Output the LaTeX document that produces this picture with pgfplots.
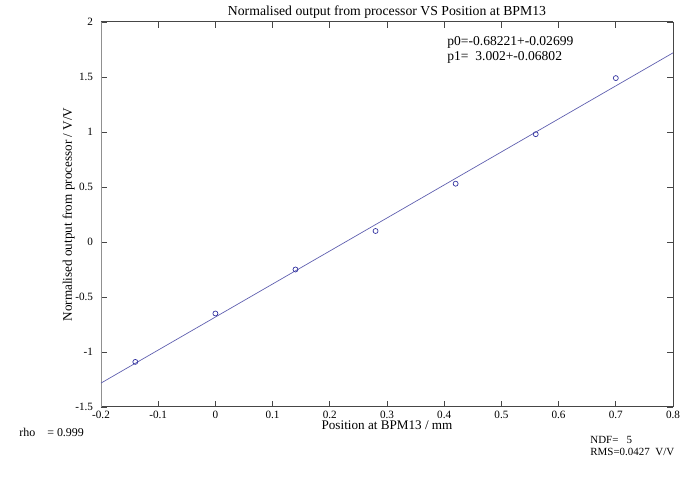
\documentclass[border=0pt]{standalone}
\usepackage{pgfplots}
\pgfplotsset{compat=1.18}
\usepackage{fontspec}
\setmainfont{Liberation Serif}
\usetikzlibrary{calc}
\definecolor{fitline}{RGB}{95,95,175}
\definecolor{pts}{RGB}{50,50,160}
\definecolor{frame}{RGB}{70,70,70}
\begin{document}
\begin{tikzpicture}[x=0.5bp,y=0.5bp]
\begin{axis}[name=ax,at={(0,0)},anchor=south west,scale only axis,
  width=286bp,height=192.5bp,
  xmin=-0.2,xmax=0.8,ymin=-1.5,ymax=2,
  xtick={-0.2,-0.1,0,0.1,0.2,0.3,0.4,0.5,0.6,0.7,0.8},
  ytick={-1.5,-1,-0.5,0,0.5,1,1.5,2},
  tick align=inside,major tick length=3bp,
  tick style={frame,line width=0.4pt},
  axis line style={frame,line width=0.5pt},
  separate axis lines,
  y axis line style={draw=none},
  every tick label/.append style={font=\fontsize{5.6}{6.5}\selectfont,text=black},
  /pgf/number format/assume math mode=true,
  xticklabel style={yshift=1.5bp},
  yticklabel style={xshift=-0.5bp},
  title={Normalised output from processor VS Position at BPM13},
  title style={font=\fontsize{6.9}{7.5}\selectfont,yshift=-7.5bp},
  xlabel={Position at BPM13 / mm},
  ylabel={Normalised output from processor / V/V},
  label style={font=\fontsize{6.6}{7}\selectfont},
  xlabel style={yshift=6bp},
  ylabel style={yshift=-6.5bp},
  clip=false]
\draw[frame!60,line width=0.3pt] (axis cs:-0.2,-1.5) -- (axis cs:-0.2,2);
\draw[frame,line width=0.5pt] (axis cs:0.8,-1.5) -- (axis cs:0.8,2);
\addplot[fitline,line width=0.35pt] coordinates {(-0.2,-1.28262)(0.8,1.71939)};
\addplot[only marks,mark=o,mark size=1.25bp,pts,mark options={line width=0.35pt}] coordinates {
(-0.14,-1.09)(0,-0.65)(0.14,-0.25)(0.28,0.10)(0.42,0.53)(0.56,0.98)(0.70,1.49)};
\end{axis}
\coordinate (O) at ($(ax.south west)+(-101,-70)$);
\pgfresetboundingbox
\path[use as bounding box] (O) rectangle ++(688,477);
\begin{scope}[shift={(O)},every node/.style={font=\fontsize{6.8}{7}\selectfont,anchor=west,inner sep=0pt}]
\node at (447,435) {p0=-0.68221+-0.02699};
\node at (447,420) {p1=\ \ 3.002+-0.06802};
\node[font=\fontsize{6}{7}\selectfont] at (19,45) {rho\ \ \ \ = 0.999};
\node[font=\fontsize{5.5}{7}\selectfont] at (590,37) {NDF=\ \ \ 5};
\node[font=\fontsize{5.5}{7}\selectfont] at (590,25) {RMS=0.0427\ \ V/V};
\end{scope}
\end{tikzpicture}
\end{document}
